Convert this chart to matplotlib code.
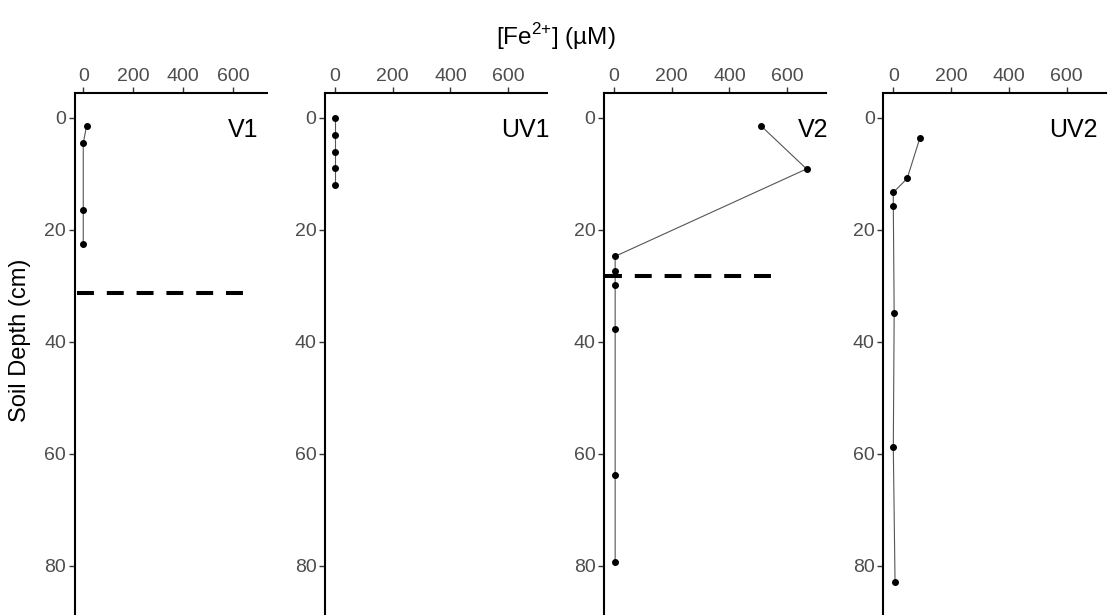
import matplotlib
matplotlib.use("Agg")
import matplotlib.pyplot as plt

plt.rcParams['font.family'] = ['Liberation Sans', 'DejaVu Sans']
plt.rcParams['mathtext.fontset'] = 'custom'
plt.rcParams['mathtext.rm'] = 'Liberation Sans'

# Perfiles de Fe2+ por sitio
sites = ["V1", "UV1", "V2", "UV2"]

fe_v1 = [13, 0, 0, 0]
depth_v1 = [1.5, 4.5, 16.5, 22.5]

fe_uv1 = [0, 0, 0, 0, 0]
depth_uv1 = [0, 3, 6, 9, 12]

fe_v2 = [509, 667, 4, 4, 4, 4, 4, 4]
depth_v2 = [1.4, 9.1, 24.7, 27.3, 29.9, 37.7, 63.7, 79.3]

fe_uv2 = [92, 48, 0, 0, 3, 0, 6]
depth_uv2 = [3.6, 10.8, 13.3, 15.7, 34.9, 58.8, 82.8]

fe_values = [fe_v1, fe_uv1, fe_v2, fe_uv2]
depth_values = [depth_v1, depth_uv1, depth_v2, depth_uv2]

# Profundidad del nivel freático (solo V1 y V2)
water_depth = {"V1": 31.3, "V2": 28.3}
water_extent = {"V1": (-25, 655), "V2": (-31, 551)}

# Posición x de la etiqueta de cada panel
label_x = [699, 745, 741, 707]

x_ticks = [0, 200, 400, 600]
y_ticks = [0, 20, 40, 60, 80]

W, H = 1109, 615
fig = plt.figure(figsize=(W / 100, H / 100), dpi=100)

# (izquierda, ancho) de cada panel en píxeles
panel_px = [(74.5, 192.5), (324.9, 222.3), (603.9, 222.3), (883.2, 222.3)]
top_px, bottom_px = 93, 615

for i, site in enumerate(sites):
    left, width = panel_px[i]
    ax = fig.add_axes([left / W, 1 - bottom_px / H, width / W, (bottom_px - top_px) / H])

    ax.plot(fe_values[i], depth_values[i], color='#555555', lw=0.8, zorder=2)
    ax.plot(fe_values[i], depth_values[i], 'o', color='black', ms=4, zorder=3)

    if site in water_depth:
        x0, x1 = water_extent[site]
        d = water_depth[site]
        ax.plot([x0, x1], [d, d], color='black', lw=2.9, dashes=(4.2, 3.2),
                solid_capstyle='butt', dash_capstyle='butt', zorder=4, clip_on=False)

    ax.text(label_x[i], 2.1, site, ha='right', va='center', fontsize=18, color='black')

    ax.set_xlim(-35, 735)
    ax.set_ylim(88.75, -4.46)
    ax.set_xticks(x_ticks)
    ax.set_yticks(y_ticks)

    ax.xaxis.tick_top()
    ax.spines['right'].set_visible(False)
    ax.spines['bottom'].set_visible(False)
    ax.spines['left'].set_linewidth(1.5)
    ax.spines['top'].set_linewidth(1.5)
    ax.tick_params(axis='both', direction='out', length=4, width=1, color='#333333',
                   labelsize=14, labelcolor='#4d4d4d', pad=2)
    ax.patch.set_visible(False)

fig.text(556 / W, 1 - 37 / H, r'[Fe$^{\mathregular{2{+}}}$] (µM)', ha='center', va='center',
         fontsize=17.5, color='black')
fig.text(20 / W, 1 - 340 / H, 'Soil Depth (cm)', ha='center', va='center',
         rotation=90, fontsize=17, color='black')

fig.savefig('out.png', dpi=100, facecolor='white')
